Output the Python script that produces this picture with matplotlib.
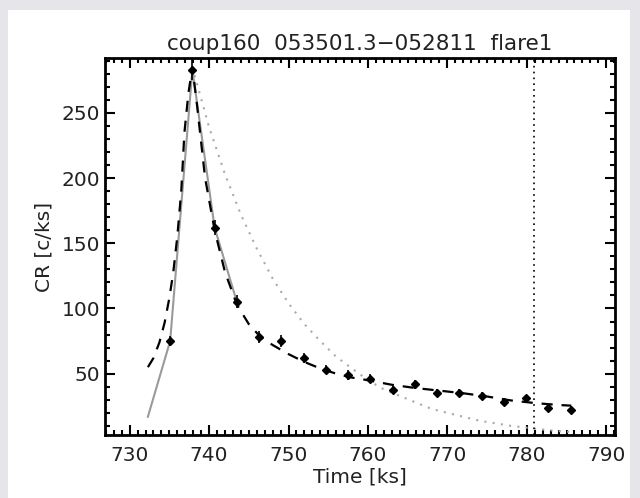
import numpy as np
import matplotlib
matplotlib.use("Agg")
import matplotlib.pyplot as plt
from matplotlib.patches import Rectangle
from matplotlib.ticker import MultipleLocator

# light curve bins (ks, counts/ks)
t_bin = [735.1, 737.9, 740.7, 743.5, 746.3, 749.1, 751.9, 754.7, 757.5, 760.3,
         763.1, 765.9, 768.7, 771.5, 774.3, 777.1, 779.9, 782.7, 785.5]
cr_bin = [75, 283, 162, 105, 78, 75, 62, 53, 49, 46,
          37.5, 42, 35.5, 35.5, 33, 28.5, 31, 23.5, 22.5]
cr_err = [4, 8, 6, 5, 4.5, 4.5, 4, 3.5, 3.5, 3.5,
          3, 3.5, 3, 3, 3, 3, 3, 2.5, 2.5]

# raw curve (grey solid)
t_raw = [732.3, 735.1, 737.9, 740.7, 743.5]
cr_raw = [17, 75, 283, 162, 105]

# model fit (dashed)
t_fit = [732.3, 733.0, 733.75, 734.4, 735.0, 735.5, 736.0, 736.5, 736.9, 737.4,
         737.9, 738.5, 739.5, 740.7, 742.0, 743.5, 745.0, 746.5, 748.0, 750.0,
         752.0, 754.0, 756.0, 758.0, 760.0, 763.0, 766.0, 769.0, 772.0, 775.0,
         778.0, 781.0, 784.0, 785.6]
cr_fit = [55, 62, 74, 89, 108, 128, 155, 190, 235, 265,
          285, 255, 200, 160, 128, 103, 88, 78, 72, 65,
          59, 54, 50, 47, 45, 41.5, 39, 37, 35, 32.5,
          29.5, 27.5, 26, 25.5]

# single exponential decay (grey dotted)
t_exp = [737.9, 740, 742, 744, 746, 748, 750, 752, 754, 756, 758, 760, 762,
         764, 766, 768, 770, 772, 774, 776, 778, 780, 782, 784, 786]
cr_exp = [285, 239, 203, 172, 146, 123, 104, 88, 75, 63, 54, 45, 38,
          33, 28, 23, 20, 17, 14, 12, 10, 8.6, 7.2, 6, 5.2]

t_end = 780.9
title = "coup160  053501.3\u2212052811  flare1"

plt.rcParams['font.family'] = ['DejaVu Sans']
txt = '#222222'

fig = plt.figure(figsize=(6.4, 4.98), dpi=100, facecolor='#e6e6ea')
fig.patches.append(Rectangle((8 / 640, 0), 622 / 640, 1 - 10 / 498,
                             transform=fig.transFigure, facecolor='white',
                             edgecolor='none', zorder=-10))
ax = fig.add_axes([105 / 640, 1 - 435 / 498, 510 / 640, 377 / 498])
ax.set_facecolor('white')

ax.plot(t_raw, cr_raw, color='#9a9a9a', lw=1.5)
ax.plot(t_exp, cr_exp, color='#aaaaaa', lw=1.5, ls=(0, (1, 3)))
ax.plot(t_fit, cr_fit, color='black', lw=1.6, ls=(0, (5, 4)))
ax.errorbar(t_bin, cr_bin, yerr=cr_err, fmt='D', ms=4, color='black',
            ecolor='black', elinewidth=1.2, capsize=0)
ax.axvline(t_end, color='black', lw=1.2, ls=(0, (1, 2.5)))

ax.set_xlim(726.9, 791.1)
ax.set_ylim(3, 292)
ax.xaxis.set_major_locator(MultipleLocator(10))
ax.xaxis.set_minor_locator(MultipleLocator(1))
ax.yaxis.set_major_locator(MultipleLocator(50))
ax.yaxis.set_minor_locator(MultipleLocator(10))
ax.tick_params(which='both', direction='in', top=True, right=True,
               width=1.5, labelsize=14.5, labelcolor=txt)
ax.tick_params(which='major', length=7)
ax.tick_params(which='minor', length=3.5)
ax.tick_params(axis='x', pad=8)
for s in ax.spines.values():
    s.set_linewidth(2)

ax.set_title(title, fontsize=15.5, pad=6, color=txt)
ax.set_xlabel("Time [ks]", fontsize=14.5, labelpad=2, color=txt)
ax.set_ylabel("CR [c/ks]", fontsize=14.5, labelpad=6, color=txt)

fig.savefig("out.png", dpi=100, facecolor=fig.get_facecolor())
